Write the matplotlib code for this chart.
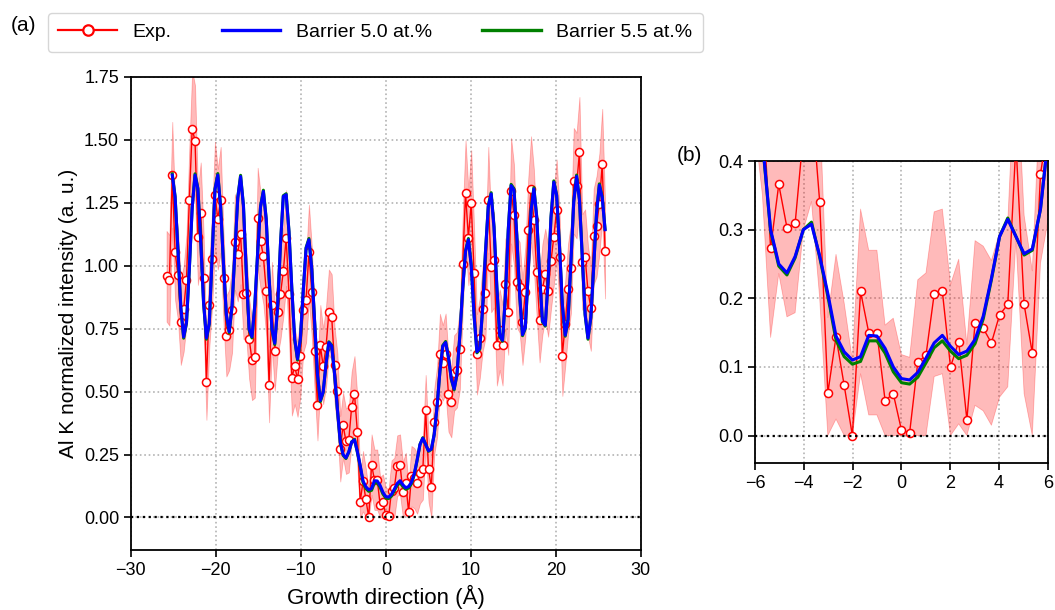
import numpy as np
import matplotlib
matplotlib.use('Agg')
import matplotlib.pyplot as plt
from matplotlib.lines import Line2D
from matplotlib.ticker import FormatStrFormatter

plt.rcParams['font.family'] = ['Liberation Sans', 'DejaVu Sans']

# sampling step along the growth direction (Å); exp. points k = -77..77, simulations k = -75..77
step = 0.335
k_exp = np.arange(-77, 78)
k_sim = np.arange(-75, 78)

# measured Al K intensity
exp_y = [0.958, 0.942, 1.361, 1.053, 0.964, 0.776, 0.828, 0.945, 1.262, 1.544,
         1.496, 1.114, 1.210, 0.951, 0.538, 0.843, 1.028, 1.282, 1.185, 1.262,
         0.951, 0.720, 0.745, 0.825, 1.094, 1.048, 1.126, 0.889, 0.892, 0.710,
         0.626, 0.636, 1.189, 1.100, 1.037, 0.901, 0.528, 0.845, 0.663, 0.815,
         0.887, 0.977, 1.110, 0.887, 0.555, 0.600, 0.550, 0.640, 0.825, 0.865,
         1.053, 0.896, 0.663, 0.446, 0.684, 0.600, 0.677, 0.815, 0.796, 0.606,
         0.501, 0.273, 0.366, 0.303, 0.309, 0.439, 0.491, 0.341, 0.062, 0.144,
         0.073, 0.000, 0.210, 0.150, 0.150, 0.051, 0.061, 0.008, 0.004, 0.107,
         0.117, 0.206, 0.210, 0.100, 0.137, 0.023, 0.164, 0.156, 0.135, 0.176,
         0.191, 0.426, 0.191, 0.120, 0.381, 0.459, 0.649, 0.614, 0.650, 0.491,
         0.458, 0.574, 0.587, 0.669, 1.007, 1.288, 1.112, 1.249, 0.971, 0.648,
         0.713, 0.829, 0.892, 1.262, 0.995, 1.024, 0.684, 0.746, 0.684, 0.929,
         0.816, 1.298, 1.202, 0.935, 0.914, 0.776, 0.896, 1.143, 1.304, 1.183,
         0.973, 0.786, 0.907, 0.967, 0.898, 1.017, 1.114, 1.222, 1.033, 0.643,
         0.770, 0.907, 0.991, 1.337, 1.318, 1.450, 1.015, 1.034, 0.898, 0.832,
         1.116, 1.156, 1.246, 1.403, 1.060]

# uncertainty of the measurement
exp_err = [0.18, 0.18, 0.21, 0.19, 0.18, 0.17, 0.17, 0.18, 0.21, 0.23,
           0.22, 0.19, 0.20, 0.18, 0.15, 0.17, 0.19, 0.21, 0.20, 0.21,
           0.18, 0.16, 0.16, 0.17, 0.19, 0.19, 0.20, 0.18, 0.18, 0.16,
           0.16, 0.16, 0.20, 0.19, 0.19, 0.18, 0.15, 0.17, 0.16, 0.17,
           0.18, 0.18, 0.19, 0.18, 0.15, 0.15, 0.15, 0.16, 0.17, 0.17,
           0.19, 0.18, 0.16, 0.14, 0.16, 0.15, 0.16, 0.17, 0.17, 0.15,
           0.15, 0.13, 0.13, 0.13, 0.13, 0.14, 0.15, 0.14, 0.11, 0.12,
           0.12, 0.11, 0.12, 0.12, 0.12, 0.11, 0.11, 0.11, 0.11, 0.12,
           0.12, 0.12, 0.12, 0.12, 0.12, 0.11, 0.12, 0.12, 0.12, 0.12,
           0.12, 0.14, 0.13, 0.12, 0.13, 0.14, 0.16, 0.15, 0.16, 0.15,
           0.14, 0.15, 0.15, 0.16, 0.19, 0.21, 0.19, 0.21, 0.18, 0.16,
           0.16, 0.17, 0.18, 0.21, 0.18, 0.19, 0.16, 0.16, 0.16, 0.18,
           0.17, 0.21, 0.20, 0.18, 0.18, 0.17, 0.18, 0.20, 0.21, 0.20,
           0.18, 0.17, 0.18, 0.18, 0.18, 0.19, 0.19, 0.20, 0.19, 0.16,
           0.17, 0.18, 0.18, 0.21, 0.21, 0.22, 0.19, 0.19, 0.18, 0.17,
           0.19, 0.20, 0.20, 0.22, 0.19]

# simulation, barrier 5.0 at.%
sim50_y = [1.360, 1.273, 1.062, 0.836, 0.717, 0.775, 0.988, 1.230, 1.360, 1.305,
           1.097, 0.854, 0.713, 0.771, 1.036, 1.302, 1.360, 1.230, 1.005, 0.806,
           0.738, 0.840, 1.057, 1.268, 1.354, 1.238, 0.974, 0.749, 0.718, 0.847,
           1.054, 1.233, 1.295, 1.184, 0.956, 0.750, 0.692, 0.836, 1.085, 1.275,
           1.282, 1.134, 0.908, 0.709, 0.630, 0.711, 0.900, 1.069, 1.103, 0.986,
           0.775, 0.569, 0.465, 0.499, 0.610, 0.695, 0.681, 0.570, 0.430, 0.300,
           0.250, 0.237, 0.261, 0.300, 0.308, 0.262, 0.207, 0.145, 0.122, 0.110,
           0.115, 0.146, 0.145, 0.127, 0.100, 0.083, 0.081, 0.092, 0.113, 0.135,
           0.146, 0.130, 0.118, 0.123, 0.140, 0.174, 0.229, 0.290, 0.315, 0.290,
           0.265, 0.272, 0.330, 0.440, 0.580, 0.680, 0.695, 0.636, 0.551, 0.511,
           0.570, 0.723, 0.908, 1.056, 1.103, 1.000, 0.802, 0.658, 0.672, 0.831,
           1.055, 1.236, 1.285, 1.152, 0.915, 0.723, 0.704, 0.881, 1.141, 1.318,
           1.301, 1.120, 0.883, 0.726, 0.755, 0.971, 1.216, 1.305, 1.192, 0.967,
           0.781, 0.764, 0.941, 1.189, 1.332, 1.278, 1.077, 0.847, 0.724, 0.786,
           1.011, 1.253, 1.355, 1.261, 1.034, 0.807, 0.713, 0.795, 0.994, 1.208,
           1.320, 1.270, 1.143]

# simulation, barrier 5.5 at.%
sim55_y = [1.365, 1.275, 1.060, 0.832, 0.712, 0.772, 0.988, 1.233, 1.365, 1.308,
           1.097, 0.851, 0.708, 0.768, 1.036, 1.305, 1.366, 1.232, 1.004, 0.802,
           0.733, 0.837, 1.057, 1.271, 1.359, 1.240, 0.972, 0.745, 0.713, 0.844,
           1.054, 1.236, 1.300, 1.186, 0.954, 0.746, 0.687, 0.833, 1.085, 1.278,
           1.286, 1.135, 0.906, 0.705, 0.625, 0.708, 0.900, 1.072, 1.108, 0.988,
           0.773, 0.565, 0.460, 0.496, 0.610, 0.698, 0.684, 0.570, 0.428, 0.298,
           0.247, 0.234, 0.259, 0.300, 0.311, 0.260, 0.203, 0.139, 0.115, 0.104,
           0.108, 0.138, 0.138, 0.120, 0.093, 0.077, 0.075, 0.085, 0.106, 0.128,
           0.138, 0.123, 0.112, 0.117, 0.134, 0.170, 0.227, 0.290, 0.317, 0.290,
           0.263, 0.270, 0.330, 0.440, 0.580, 0.683, 0.699, 0.636, 0.548, 0.507,
           0.568, 0.723, 0.910, 1.060, 1.108, 1.002, 0.800, 0.654, 0.668, 0.829,
           1.056, 1.240, 1.290, 1.155, 0.913, 0.719, 0.700, 0.879, 1.143, 1.323,
           1.306, 1.122, 0.881, 0.722, 0.751, 0.970, 1.219, 1.310, 1.195, 0.966,
           0.777, 0.760, 0.940, 1.191, 1.337, 1.281, 1.077, 0.844, 0.720, 0.783,
           1.011, 1.256, 1.360, 1.264, 1.033, 0.804, 0.708, 0.792, 0.994, 1.211,
           1.325, 1.273, 1.145]

x_exp = k_exp * step
x_sim = k_sim * step
y = np.array(exp_y)
err = np.array(exp_err)
lo = np.clip(y - err, 0, None)
hi = y + err


def draw(ax, ms):
    ax.fill_between(x_exp, lo, hi, color='red', alpha=0.27, lw=0.6, zorder=1)
    ax.plot(x_exp, y, '-o', color='red', lw=1.0, ms=ms, mfc='white', mec='red', mew=1.1, zorder=3)
    ax.plot(x_sim, sim55_y, color='green', lw=2.2, zorder=4)
    ax.plot(x_sim, sim50_y, color='blue', lw=2.2, zorder=5)
    ax.axhline(0, color='black', ls=':', lw=1.6, zorder=6)
    ax.grid(True, ls=':', color='0.7', lw=1.2)
    ax.set_axisbelow(True)
    ax.tick_params(labelsize=13, length=5, width=1.2)
    for s in ax.spines.values():
        s.set_linewidth(1.3)


fig = plt.figure(figsize=(10.55, 6.10), dpi=100)

ax = fig.add_axes([0.124, 0.098, 0.4834, 0.776])
draw(ax, 5.8)
ax.set_xlim(-30, 30)
ax.set_ylim(-0.13, 1.75)
ax.set_xticks(np.arange(-30, 31, 10))
ax.set_yticks(np.arange(0, 1.76, 0.25))
ax.yaxis.set_major_formatter(FormatStrFormatter('%.2f'))
ax.set_xlabel('Growth direction (Å)', fontsize=16)
ax.set_ylabel('Al K normalized intensity (a. u.)', fontsize=15)

ax2 = fig.add_axes([0.7156, 0.241, 0.2777, 0.495])
draw(ax2, 5.8)
ax2.set_xlim(-6, 6)
ax2.set_ylim(-0.04, 0.4)
ax2.set_xticks(np.arange(-6, 7, 2))
ax2.set_yticks(np.arange(0, 0.41, 0.1))
ax2.yaxis.set_major_formatter(FormatStrFormatter('%.1f'))

fig.text(0.010, 0.958, '(a)', fontsize=15, va='center')
fig.text(0.641, 0.745, '(b)', fontsize=15, va='center')

handles = [Line2D([], [], color='red', lw=1.6, marker='o', ms=7.5, mfc='white', mec='red', mew=1.6),
           Line2D([], [], color='blue', lw=2.4),
           Line2D([], [], color='green', lw=2.4)]
fig.legend(handles, ['Exp.', 'Barrier 5.0 at.%', 'Barrier 5.5 at.%'],
           loc='upper left', bbox_to_anchor=(0.036, 0.995), ncol=3, fontsize=14,
           handlelength=3.0, columnspacing=2.6, frameon=True, fancybox=True,
           edgecolor='0.8', borderpad=0.55)

fig.savefig('out.png', dpi=100)
